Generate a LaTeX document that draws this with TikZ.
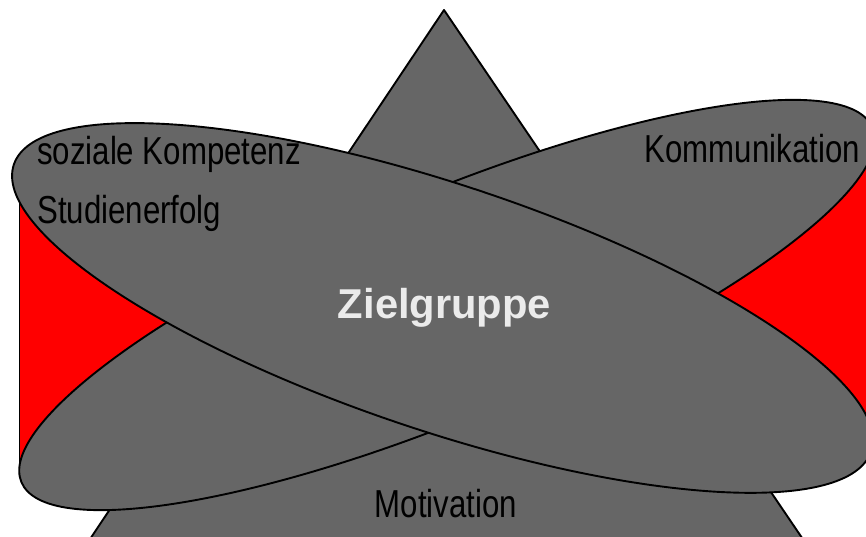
\documentclass[tikz,border=0pt]{standalone}
\usepackage{fontspec}
\newfontfamily\narrowsans[FakeStretch=0.8]{Liberation Sans}
\newfontfamily\labelsans{Liberation Sans}
\definecolor{shapegray}{HTML}{666666}
\definecolor{bandred}{HTML}{FF0000}
\definecolor{labelwhite}{HTML}{EBEBEB}
\begin{document}
\begin{tikzpicture}[x=1pt,y=-1pt,
  blob/.style={fill=shapegray, draw=black, line width=1.9pt, line join=round},
  edgeline/.style={draw=black, line width=1.9pt},
  lbl/.style={font=\narrowsans\fontsize{39}{44}\selectfont, text=black, inner sep=0pt},
  title/.style={font=\labelsans\bfseries\fontsize{41.7}{48}\selectfont, text=labelwhite, inner sep=0pt}]
\useasboundingbox (0,0) rectangle (866,537);
\clip (0,0) rectangle (866,537);
% red band behind
\fill[bandred] (19.5,180) -- (19.5,470) -- (880,450) -- (880,165) -- cycle;
\draw[edgeline] (19.5,180) -- (19.5,470);
% triangle
\coordinate (apex) at (444,10);
\coordinate (baseL) at (76,560);
\coordinate (baseR) at (817,560);
\draw[blob] (apex) -- (baseR) -- (baseL) -- cycle;
% back ellipse (lower-left to upper-right)
\coordinate (cback) at (447,305);
\draw[blob, rotate around={22.6:(cback)}] (cback) ellipse [x radius=461, y radius=112];
% front ellipse (upper-left to lower-right)
\coordinate (cfront) at (442.5,308);
\draw[blob, rotate around={-18.5:(cfront)}] (cfront) ellipse [x radius=452, y radius=123];
% labels
\node[lbl, anchor=base west] (sozial) at (37,165) {soziale Kompetenz};
\node[lbl, anchor=base west] (studien) at (37,223) {Studienerfolg};
\node[lbl, anchor=base east] (komm) at (860,163) {Kommunikation};
\node[lbl, anchor=base] (motiv) at (446,517) {Motivation};
\node[title, anchor=base] (ziel) at (444.5,318) {Zielgruppe};
\end{tikzpicture}
\end{document}
